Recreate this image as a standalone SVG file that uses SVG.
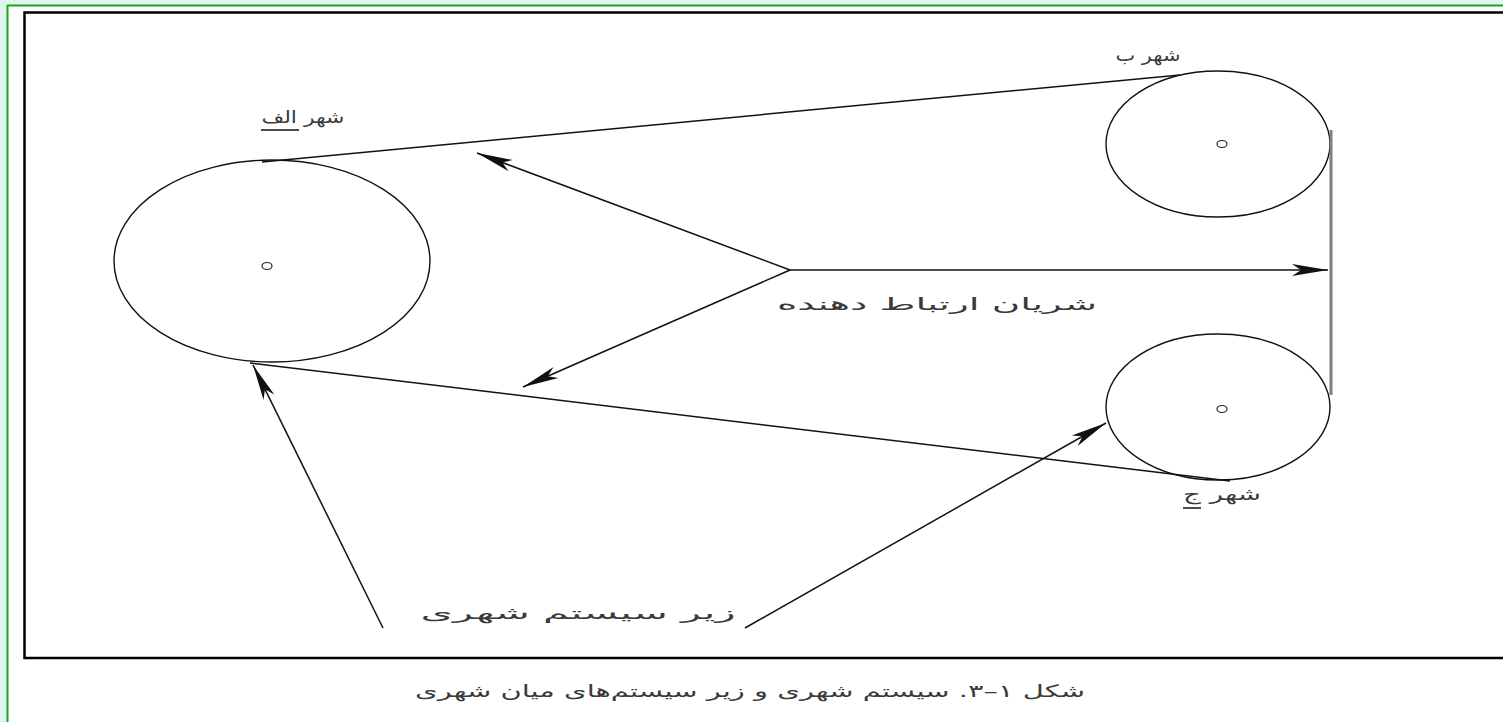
<svg xmlns="http://www.w3.org/2000/svg" width="1503" height="722" viewBox="0 0 1503 722">
<style>
.ln{stroke:#111;stroke-width:1.5;fill:none}
.el{stroke:#111;stroke-width:1.4;fill:none}
.dot{stroke:#222;stroke-width:1.2;fill:none}
.tx{font-family:"DejaVu Sans",sans-serif;font-size:17px;fill:#3a3a3a}
.ul{stroke:#111;stroke-width:1.5}
</style>
<defs>
<marker id="ah" markerUnits="userSpaceOnUse" markerWidth="44" markerHeight="16" viewBox="-40 -8 44 16" refX="0" refY="0" orient="auto">
<path d="M0,0 L-36,-6 L-27,0 L-36,6 Z" fill="#111"/>
</marker>
</defs>
<rect x="0" y="0" width="1503" height="722" fill="#dff5f0"/>
<rect x="7" y="5" width="1496" height="717" fill="#fff"/>
<line x1="7.5" y1="5" x2="7.5" y2="722" stroke="#1aa81a" stroke-width="2"/>
<line x1="7" y1="5.5" x2="1503" y2="5.5" stroke="#1aa81a" stroke-width="2"/>
<path d="M1503,12.5 H24.5 V658 H1503" fill="none" stroke="#000" stroke-width="2.5"/>
<g id="city-alef">
<ellipse class="el" cx="272" cy="261" rx="158" ry="101"/>
<ellipse class="dot" cx="267" cy="266" rx="5" ry="3.5"/>
<text class="tx" x="303" y="123" text-anchor="middle" direction="rtl" textLength="83" lengthAdjust="spacingAndGlyphs">شهر الف</text>
<line class="ul" x1="261" y1="130" x2="299" y2="130"/>
</g>
<g id="city-be">
<ellipse class="el" cx="1218" cy="144" rx="112" ry="73"/>
<ellipse class="dot" cx="1222" cy="144" rx="5" ry="3.5"/>
<text class="tx" x="1148" y="61" text-anchor="middle" direction="rtl" textLength="65" lengthAdjust="spacingAndGlyphs">شهر ب</text>
</g>
<g id="city-jim">
<ellipse class="el" cx="1218" cy="407" rx="112" ry="73"/>
<ellipse class="dot" cx="1222" cy="409" rx="5" ry="3.5"/>
<text class="tx" x="1222" y="500" text-anchor="middle" direction="rtl" textLength="78" lengthAdjust="spacingAndGlyphs">شهر ج</text>
<line class="ul" x1="1183" y1="508" x2="1201" y2="508"/>
</g>
<g id="labels">
<text class="tx" x="937" y="310" text-anchor="middle" direction="rtl" textLength="320" lengthAdjust="spacingAndGlyphs">شریان ارتباط دهنده</text>
<text class="tx" x="578" y="619" text-anchor="middle" direction="rtl" textLength="315" lengthAdjust="spacingAndGlyphs">زیر سیستم شهری</text>
<text class="tx" x="750" y="697" text-anchor="middle" direction="rtl" textLength="670" lengthAdjust="spacingAndGlyphs">شکل ۱–۳. سیستم شهری و زیر سیستم‌های میان شهری</text>
</g>
<g id="connectors">
<line class="ln" x1="262" y1="162" x2="1180" y2="75"/>
<line class="ln" x1="250" y1="363" x2="1230" y2="481"/>
<line x1="1331" y1="130" x2="1331" y2="395" stroke="#808080" stroke-width="3"/>
<line class="ln" x1="790" y1="270" x2="1328" y2="270" marker-end="url(#ah)"/>
<line class="ln" x1="790" y1="270" x2="477" y2="153" marker-end="url(#ah)"/>
<line class="ln" x1="790" y1="270" x2="523" y2="387" marker-end="url(#ah)"/>
<line class="ln" x1="383" y1="628" x2="253" y2="365" marker-end="url(#ah)"/>
<line class="ln" x1="745" y1="628" x2="1106" y2="423" marker-end="url(#ah)"/>
</g>
</svg>
